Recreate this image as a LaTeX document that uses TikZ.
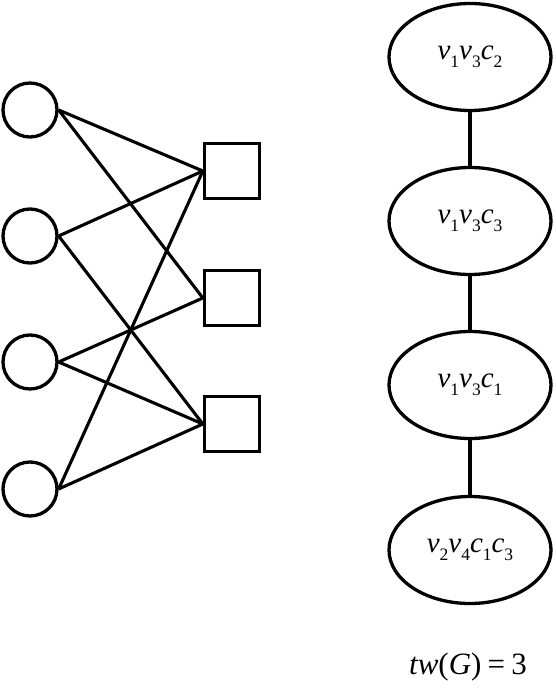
\documentclass[tikz,border=0pt]{standalone}
\usepackage{fontspec}
\setmainfont{Liberation Serif}
\usetikzlibrary{shapes.geometric}

\newcommand{\vx}[2]{\textit{#1}\raisebox{-0.28em}{\fontsize{17.5}{18}\selectfont #2}}

\tikzset{
    var/.style={draw,circle,line width=3.3pt,minimum size=54pt,inner sep=0pt},
    cls/.style={draw,rectangle,line width=3.3pt,minimum size=55pt,inner sep=0pt},
    bag/.style={draw,ellipse,line width=3.3pt,minimum width=162pt,minimum height=107pt,inner sep=0pt,font=\fontsize{29}{32}\selectfont},
    edge/.style={line width=3.1pt}
}

\begin{document}
\begin{tikzpicture}[x=1pt,y=-1pt]
            \useasboundingbox (0,0) rectangle (555,693);
            % variable nodes
            \node[var] (c1) at (30,110) {};
            \node[var] (c2) at (30,236) {};
            \node[var] (c3) at (30,362) {};
            \node[var] (c4) at (30,489) {};
            % clause nodes
            \node[cls] (s1) at (232,171) {};
            \node[cls] (s2) at (232,298) {};
            \node[cls] (s3) at (232,424) {};
            \draw[edge] (c1.east) -- (s1.west);
            \draw[edge] (c1.east) -- (s2.west);
            \draw[edge] (c2.east) -- (s1.west);
            \draw[edge] (c2.east) -- (s3.west);
            \draw[edge] (c3.east) -- (s2.west);
            \draw[edge] (c3.east) -- (s3.west);
            \draw[edge] (c4.east) -- (s1.west);
            \draw[edge] (c4.east) -- (s3.west);
            % tree decomposition
            \node[bag] (b1) at (470,57) {\vx{v}{1}\vx{v}{3}\vx{c}{2}};
            \node[bag] (b2) at (470,221) {\vx{v}{1}\vx{v}{3}\vx{c}{3}};
            \node[bag] (b3) at (470,385) {\vx{v}{1}\vx{v}{3}\vx{c}{1}};
            \node[bag] (b4) at (470,550) {\vx{v}{2}\vx{v}{4}\vx{c}{1}\vx{c}{3}};
            \draw[edge] (b1.south) -- (b2.north);
            \draw[edge] (b2.south) -- (b3.north);
            \draw[edge] (b3.south) -- (b4.north);
            \node[font=\fontsize{31}{34}\selectfont] (tw) at (468,667) {\textit{tw}(\textit{G})\hspace{0.2em}=\hspace{0.2em}3};
        \end{tikzpicture}
\end{document}
